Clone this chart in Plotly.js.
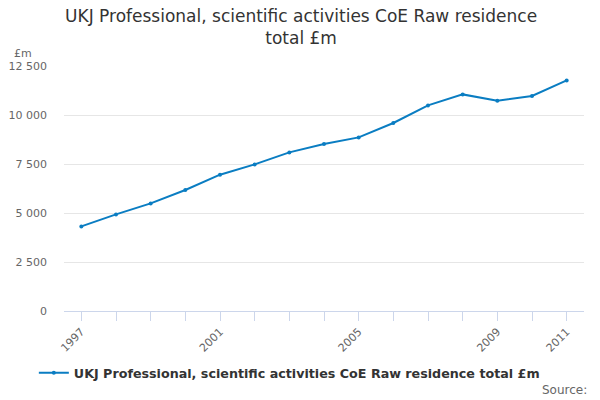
<!DOCTYPE html>
<html>
<head>
<meta charset="utf-8">
<script src="https://cdn.plot.ly/plotly-3.0.1.min.js"></script>
<style>html,body{margin:0;padding:0;background:#fff}#chart{width:600px;height:400px}</style>
</head>
<body>
<div id="chart"></div>
<script>
var years = [1997,1998,1999,2000,2001,2002,2003,2004,2005,2006,2007,2008,2009,2010,2011];
var values = [4316,4929,5490,6173,6954,7480,8092,8520,8857,9592,10490,11051,10730,10969,11765];
var seriesName = "UKJ Professional, scientific activities CoE Raw residence total £m";
var titleText = "UKJ Professional, scientific activities CoE Raw residence<br>total £m";
var xTickLabels = ["1997","","","","2001","","","","2005","","","","2009","","2011"];
var yTickVals = [0,2500,5000,7500,10000,12500];
var yTickText = ["0","2 500","5 000","7 500","10 000","12 500"];

var trace = {
  x: years, y: values, name: seriesName, type: "scatter", mode: "lines+markers",
  line: {color: "#0a7dc2", width: 2},
  marker: {color: "#0a7dc2", size: 4}
};
var layout = {
  width: 600, height: 400,
  margin: {l: 64, r: 16, t: 66, b: 89},
  paper_bgcolor: "#fff", plot_bgcolor: "#fff",
  font: {family: "DejaVu Sans, sans-serif", color: "#666", size: 11},
  title: {text: titleText, font: {size: 17, color: "#333"},
          xref: "paper", x: 0.456, xanchor: "center", yref: "container", y: 0.945, yanchor: "middle"},
  xaxis: {range: [1996.5, 2011.5], tickvals: years, ticktext: xTickLabels, tickangle: -45,
          ticks: "outside", ticklen: 9, tickcolor: "#ccd6eb", showgrid: false, zeroline: false,
          showline: true, linecolor: "#ccd6eb", linewidth: 1, fixedrange: true,
          tickfont: {size: 11, color: "#666"}},
  yaxis: {range: [0, 12500], tickvals: yTickVals, ticktext: yTickText, showgrid: true,
          gridcolor: "#e6e6e6", zeroline: false, showline: false, ticks: "", fixedrange: true,
          ticklabelstandoff: 16, tickfont: {size: 11, color: "#666"}},
  showlegend: true,
  legend: {orientation: "h", x: -0.058, xanchor: "left", y: -0.253, yanchor: "middle",
           font: {size: 12.7, color: "#333", weight: "bold"}, itemwidth: 30},
  annotations: [
    {text: "£m", xref: "paper", yref: "paper", x: -0.1, y: 1.05, xanchor: "left", yanchor: "middle",
     showarrow: false, font: {size: 11, color: "#666"}},
    {text: "Source:", xref: "paper", yref: "paper", x: 1.01, y: -0.322, xanchor: "right", yanchor: "middle",
     showarrow: false, font: {size: 12, color: "#666"}}
  ]
};
Plotly.newPlot("chart", [trace], layout, {displayModeBar: false, staticPlot: true});
</script>
</body>
</html>
